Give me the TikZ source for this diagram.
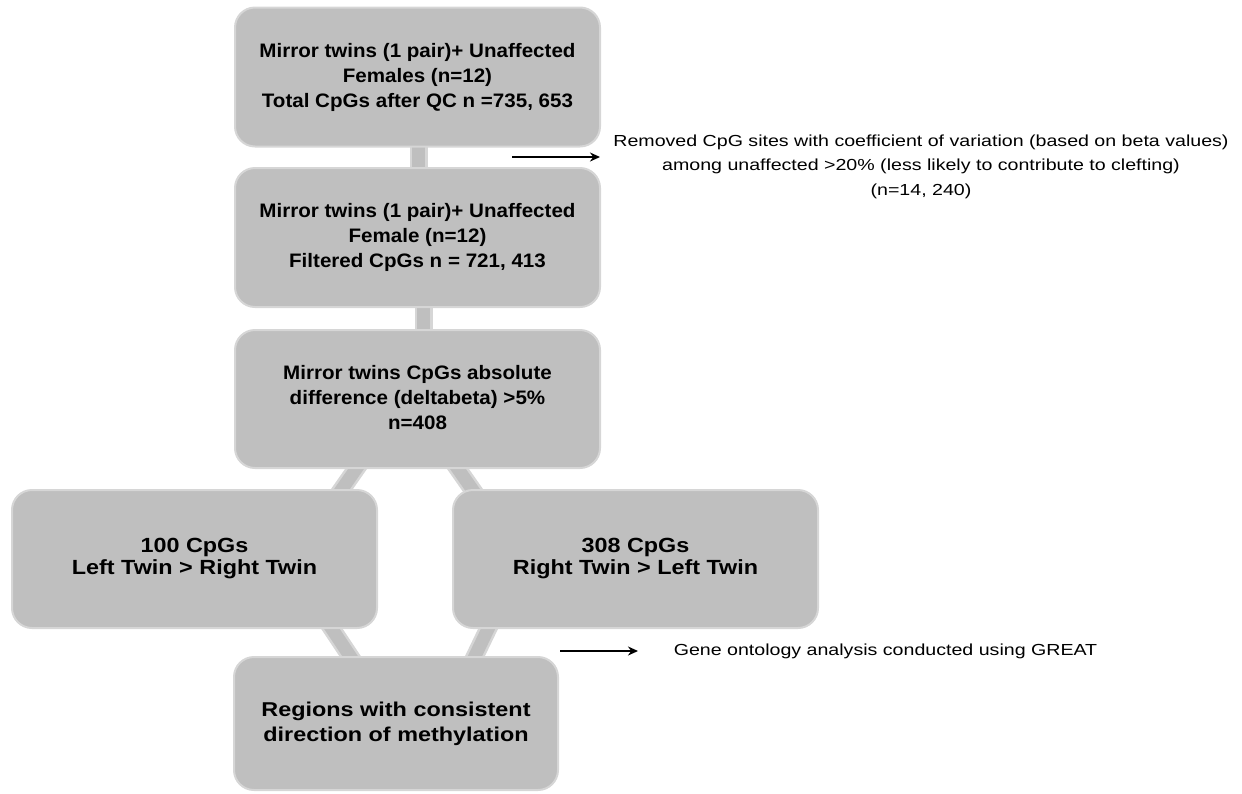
\documentclass[tikz,border=0pt]{standalone}
\usepackage{fontspec}
\setmainfont{Liberation Sans}
\usepackage{graphicx}
\usetikzlibrary{arrows.meta}
\pgfdeclarelayer{bg}
\pgfsetlayers{bg,main}
\definecolor{boxfill}{HTML}{BFBFBF}
\definecolor{boxline}{HTML}{D6D6D6}
\newcommand{\boxtxt}[4]{{\fontsize{#1}{#2}\selectfont\bfseries\scalebox{#3}[1]{\begin{tabular}{@{}c@{}}#4\end{tabular}}}}
\newcommand{\sidetxt}[1]{{\fontsize{16}{24.5}\selectfont\scalebox{1.225}[1]{\begin{tabular}{@{}c@{}}#1\end{tabular}}}}
\begin{document}
\begin{tikzpicture}[x=1pt,y=-1pt,
  box/.style={draw=boxline, line width=2pt, fill=boxfill, rounded corners=20pt,
    minimum width=365pt, minimum height=139pt, inner sep=0pt, text=black},
  conn/.style={draw=boxfill, line width=13pt, shorten <=-12pt, shorten >=-12pt,
    preaction={draw=boxline, line width=18pt, shorten <=-12pt, shorten >=-12pt}},
  arr/.style={-{Stealth[length=10pt,width=9pt]}, line width=2.2pt, black}]
\useasboundingbox (0,0) rectangle (1242,793);

\node[box] (b1) at (417.5,77) {\boxtxt{19.5}{25}{1.055}{Mirror twins (1 pair)+ Unaffected\\Females (n=12)\\Total CpGs after QC n =735, 653}};
\node[box] (b2) at (417.5,237.5) {\boxtxt{19.5}{25}{1.055}{Mirror twins (1 pair)+ Unaffected\\Female (n=12)\\Filtered CpGs n = 721, 413}};
\node[box, minimum height=138pt] (b3) at (417.5,399) {\boxtxt{19.5}{25}{1.055}{Mirror twins CpGs absolute\\difference (deltabeta) >5\%\\n=408}};
\node[box, minimum height=138pt] (bL) at (194.5,559) {\boxtxt{20.5}{22}{1.14}{100 CpGs\\Left Twin > Right Twin}};
\node[box, minimum height=138pt] (bR) at (635.5,559) {\boxtxt{20.5}{22}{1.14}{308 CpGs\\Right Twin > Left Twin}};
\node[box, minimum width=324pt, minimum height=133pt] (bB) at (396,723.5) {\boxtxt{20}{25}{1.17}{Regions with consistent\\direction of methylation}};

\begin{pgfonlayer}{bg}
\draw[conn] ([xshift=1pt]b1.south) -- ([xshift=1pt]b2.north);
\draw[conn] ([xshift=6pt]b2.south) -- ([xshift=6pt]b3.north);
\draw[conn] ([xshift=-61.5pt]b3.south) -- ([xshift=147.5pt]bL.north);
\draw[conn] ([xshift=40.5pt]b3.south) -- ([xshift=-163.5pt]bR.north);
\draw[conn] ([xshift=137.5pt]bL.south) -- ([xshift=-46pt]bB.north);
\draw[conn] ([xshift=-147.5pt]bR.south) -- ([xshift=79pt]bB.north);
\end{pgfonlayer}

\coordinate (a1s) at (512,157);
\coordinate (a1e) at (600,157);
\draw[arr] (a1s) -- (a1e);
\node (t1) at (921,166) {\sidetxt{Removed CpG sites with coefficient of variation (based on beta values)\\among unaffected >20\% (less likely to contribute to clefting)\\(n=14, 240)}};

\coordinate (a2s) at (560,651);
\coordinate (a2e) at (638,651);
\draw[arr] (a2s) -- (a2e);
\node (t2) at (885.5,651) {\sidetxt{Gene ontology analysis conducted using GREAT}};
\end{tikzpicture}
\end{document}
